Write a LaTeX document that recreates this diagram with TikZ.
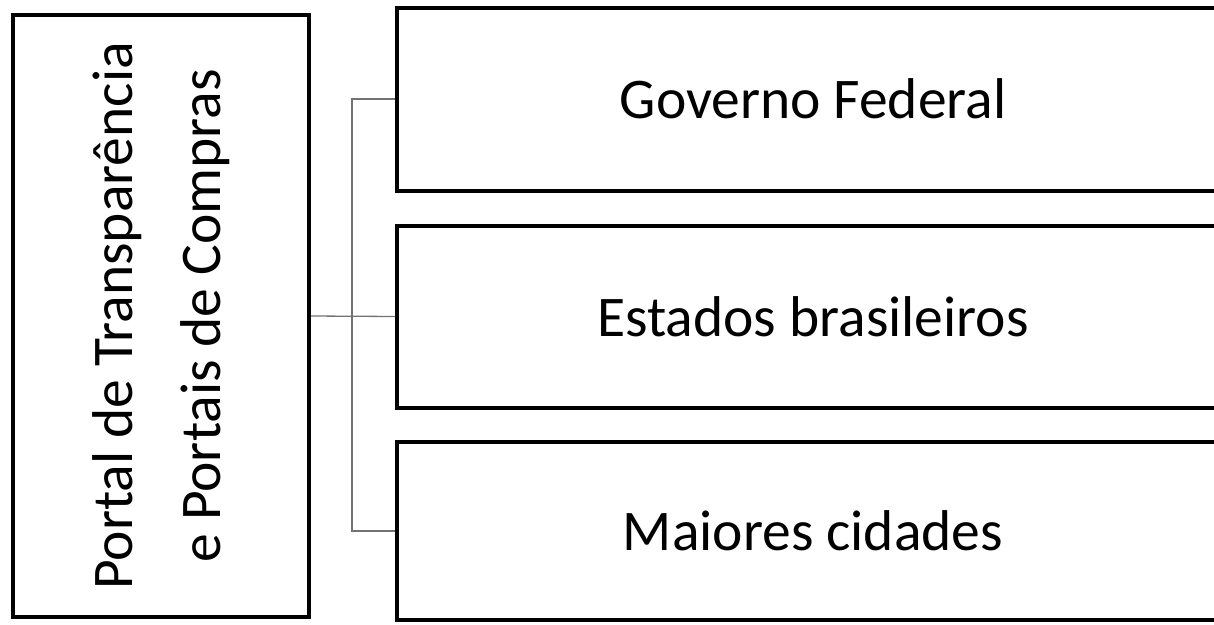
\documentclass[tikz,border=0pt]{standalone}
\usepackage{fontspec}
\setmainfont{Carlito}
\begin{document}
\begin{tikzpicture}[x=1pt,y=-1pt,
  box/.style={draw=black, line width=4pt, fill=white, inner sep=0pt},
  conn/.style={draw=black!55, line width=1.3pt},
  lbl/.style={font=\fontsize{57.5}{88}\selectfont}]
\useasboundingbox (0,0) rectangle (1214,624);
\clip (0,0) rectangle (1214,624);
\node[box, lbl, rotate=90, align=center, minimum width=602pt, minimum height=296pt] (L) at (161,316)
  {Portal de Transparência\\e Portais de Compras};
\node[box, lbl, minimum width=832pt, minimum height=183pt] (T) at (813,99) {Governo Federal};
\node[box, lbl, minimum width=832pt, minimum height=182pt] (M) at (813,316.5) {Estados brasileiros};
\node[box, lbl, minimum width=832pt, minimum height=178pt] (B) at (813,531) {Maiores cidades};
\coordinate (bus) at (352,316);
\draw[conn] (T.west) -| (bus) |- (B.west);
\draw[conn] (L.south) -- (M.west);
\end{tikzpicture}
\end{document}
